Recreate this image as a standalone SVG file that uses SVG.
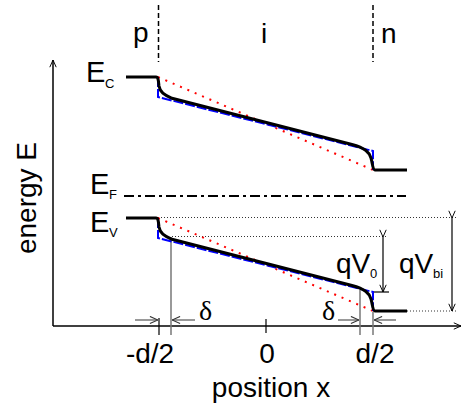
<svg xmlns="http://www.w3.org/2000/svg" width="463" height="404" viewBox="0 0 463 404">
<style>
text{font-family:"Liberation Sans",Arial,sans-serif;fill:#000}
.lbl{font-size:28px}
.big{font-size:29px}
.sub{font-size:13px}
.greek{font-family:"Liberation Serif","DejaVu Serif",serif;font-size:28px}
.band{fill:none;stroke:#000;stroke-width:3}
.approx{fill:none;stroke:#0000ff;stroke-width:2;stroke-dasharray:10 2}
.lin{fill:none;stroke:#ff0000;stroke-width:2;stroke-dasharray:2 6}
.ref{fill:none;stroke:#333;stroke-width:1;stroke-dasharray:1 2}
.gray{fill:none;stroke:#777;stroke-width:1.5}
.axis{fill:none;stroke:#000;stroke-width:1.5}
.dim{fill:none;stroke:#000;stroke-width:1.2}
</style>
<defs>
<marker id="ah" viewBox="0 0 10 10" refX="10" refY="5" markerWidth="8" markerHeight="8" markerUnits="userSpaceOnUse" orient="auto">
<path d="M1,1 L10,5 L1,9" fill="none" stroke="#000" stroke-width="1.2"/>
</marker>
<marker id="ahg" viewBox="0 0 10 10" refX="10" refY="5" markerWidth="9" markerHeight="9" markerUnits="userSpaceOnUse" orient="auto">
<path d="M1,1 L10,5 L1,9" fill="none" stroke="#333" stroke-width="1.2"/>
</marker>
</defs>
<g id="connectors">
<line class="axis" x1="53" y1="326" x2="53" y2="60" marker-end="url(#ah)"/>
<line class="axis" x1="53" y1="326" x2="461" y2="326" marker-end="url(#ah)"/>
<line x1="158.5" y1="5" x2="158.5" y2="62" stroke="#000" stroke-width="1.5" stroke-dasharray="5 3"/>
<line x1="373" y1="5" x2="373" y2="62" stroke="#000" stroke-width="1.5" stroke-dasharray="5 3"/>
<line x1="124" y1="196" x2="406" y2="196" stroke="#000" stroke-width="2" stroke-dasharray="10 4 3 4"/>
<line class="ref" x1="158" y1="217.5" x2="458" y2="217.5"/>
<line class="ref" x1="172" y1="236.5" x2="388" y2="236.5"/>
<line class="ref" x1="407" y1="311" x2="458" y2="311"/>
<line class="dim" x1="373" y1="292" x2="389" y2="292"/>
<line class="dim" x1="383" y1="237" x2="383" y2="292" marker-start="url(#ah)" marker-end="url(#ah)"/>
<line class="dim" x1="452" y1="218" x2="452" y2="311" marker-start="url(#ah)" marker-end="url(#ah)"/>
<line class="gray" x1="171" y1="237" x2="171" y2="335"/>
<line class="dim" x1="159" y1="318" x2="159" y2="335"/>
<line class="gray" x1="360" y1="290" x2="360" y2="335"/>
<line class="gray" x1="373" y1="312" x2="373" y2="335"/>
<line class="dim" x1="266" y1="319" x2="266" y2="333"/>
<line class="gray" x1="135" y1="320" x2="158" y2="320" marker-end="url(#ahg)"/>
<line class="gray" x1="195" y1="320" x2="172" y2="320" marker-end="url(#ahg)"/>
<line class="gray" x1="338" y1="320" x2="359" y2="320" marker-end="url(#ahg)"/>
<line class="gray" x1="396" y1="320" x2="374" y2="320" marker-end="url(#ahg)"/>
</g>
<g id="conduction-band">
<path class="lin" d="M158,77 L373,170"/>
<path class="approx" d="M158,77 L158,97 L373,151 L373,170"/>
<path class="band" d="M126,77 H156 C158.5,77 158.5,82 159,86 C160,92 164,95 172,98.3 L352,144.5 C365,148 369,152 371,158 C372.5,163 372.5,170 375,170 H407"/>
</g>
<g id="valence-band">
<path class="lin" d="M158,218 L373,311"/>
<path class="approx" d="M158,218 L158,238 L373,292 L373,311"/>
<path class="band" d="M126,218 H156 C158.5,218 158.5,223 159,227 C160,233 164,236 172,239.3 L352,285.5 C365,289 369,293 371,299 C372.5,304 372.5,311 375,311 H407"/>
</g>
<g id="labels">
<text class="lbl" x="133" y="42">p</text>
<text class="lbl" x="261" y="43">i</text>
<text class="lbl" x="381" y="43">n</text>
<text class="big" x="86" y="82">E</text><text class="sub" x="105" y="88">C</text>
<text class="big" x="90" y="194">E</text><text class="sub" x="109" y="199">F</text>
<text class="big" x="90" y="232">E</text><text class="sub" x="109" y="237">V</text>
<text class="lbl" x="336" y="273">qV</text><text class="sub" x="370" y="278">0</text>
<text class="lbl" x="399" y="273">qV</text><text class="sub" x="433" y="278">bi</text>
<text class="greek" x="199" y="320">δ</text>
<text class="greek" x="322" y="320">δ</text>
<text class="lbl" x="150" y="363" text-anchor="middle">-d/2</text>
<text class="lbl" x="267" y="363" text-anchor="middle">0</text>
<text class="lbl" x="375" y="363" text-anchor="middle">d/2</text>
<text class="lbl" x="271" y="397" text-anchor="middle">position x</text>
<text class="lbl" transform="translate(36,198) rotate(-90)" text-anchor="middle">energy E</text>
</g>
</svg>
